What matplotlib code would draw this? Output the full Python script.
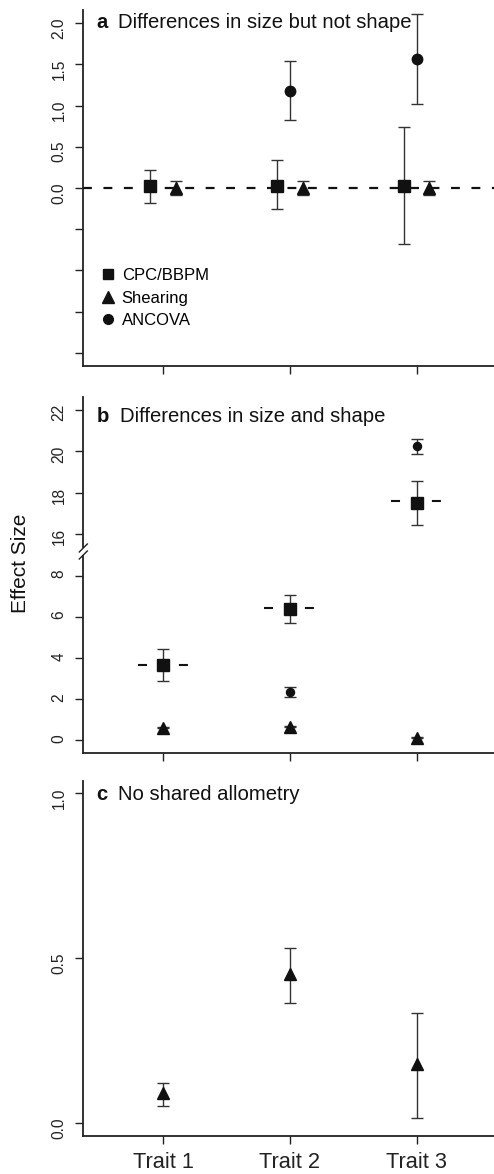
import matplotlib
matplotlib.use('Agg')
import matplotlib.pyplot as plt
import numpy as np
from matplotlib.lines import Line2D

plt.rcParams['font.family'] = ['Liberation Sans', 'DejaVu Sans']

# ---------------- data ----------------
traits = ['Trait 1', 'Trait 2', 'Trait 3']
trait_pos = [1, 2, 3]
methods = ['CPC/BBPM', 'Shearing', 'ANCOVA']

# panel a: differences in size but not shape
a_cpc = [0.02, 0.03, 0.03]
a_cpc_lo = [-0.18, -0.26, -0.675]
a_cpc_hi = [0.22, 0.335, 0.74]
a_shear = [0.0, 0.0, 0.0]
a_shear_lo = [-0.08, -0.08, -0.08]
a_shear_hi = [0.08, 0.09, 0.09]
a_ancova = [np.nan, 1.18, 1.56]
a_ancova_lo = [np.nan, 0.83, 1.02]
a_ancova_hi = [np.nan, 1.54, 2.11]
a_yticks = [-2.0, -1.5, -1.0, -0.5, 0.0, 0.5, 1.0, 1.5, 2.0]
a_ylabels = ['', '', '', '', '0.0', '0.5', '1.0', '1.5', '2.0']

# panel b: differences in size and shape (broken axis)
b_cpc = [3.645, 6.38, 17.52]
b_cpc_lo = [2.88, 5.72, 16.43]
b_cpc_hi = [4.42, 7.05, 18.59]
b_cpc_ref = [3.645, 6.415, 17.63]
b_shear = [0.61, 0.66, 0.13]
b_shear_lo = [0.58, 0.63, 0.10]
b_shear_hi = [0.64, 0.69, 0.16]
b_ancova = [np.nan, 2.35, 20.24]
b_ancova_lo = [np.nan, 2.12, 19.88]
b_ancova_hi = [np.nan, 2.59, 20.60]
b_low_ticks = [0, 2, 4, 6, 8]
b_high_ticks = [16, 18, 20, 22]

# panel c: no shared allometry
c_shear = [0.091, 0.452, 0.179]
c_shear_lo = [0.052, 0.364, 0.016]
c_shear_hi = [0.123, 0.530, 0.335]
c_yticks = [0.0, 0.5, 1.0]
c_ylabels = ['0.0', '0.5', '1.0']

# ---------------- layout helpers ----------------
W, H = 494, 1174
fig = plt.figure(figsize=(W / 100, H / 100), dpi=100)


def axrect(top_px, bottom_px, left_px=83.3):
    return [left_px / W, 1 - bottom_px / H, 1 - left_px / W, (bottom_px - top_px) / H]


def fpt(x, y):
    return (x / W, 1 - y / H)


INK = '#111111'
BAR = '#333333'
XLIM = (0.3724, 3.609)


def style(ax, show_bottom=True):
    ax.spines['top'].set_visible(False)
    ax.spines['right'].set_visible(False)
    ax.spines['left'].set_linewidth(1.3)
    ax.spines['left'].set_color('#222222')
    ax.spines['bottom'].set_linewidth(1.3)
    ax.spines['bottom'].set_color('#222222')
    if not show_bottom:
        ax.spines['bottom'].set_visible(False)
        ax.tick_params(axis='x', bottom=False, labelbottom=False)
    ax.tick_params(axis='both', direction='out', length=5.8, width=1.0,
                   color='#222222', labelcolor='#222222')
    ax.tick_params(axis='y', labelrotation=90, labelsize=11.2, pad=6.3)
    ax.set_xlim(*XLIM)
    ax.set_xticks(trait_pos)
    ax.set_xticklabels([])
    ax.patch.set_alpha(0)


def eb(ax, x, y, lo, hi, marker, ms):
    y = np.asarray(y, float)
    lo = np.asarray(lo, float)
    hi = np.asarray(hi, float)
    ax.errorbar(x, y, yerr=[y - lo, hi - y], fmt=marker, ms=ms, color=INK,
                mec=INK, mfc=INK, ecolor=BAR, elinewidth=1.0, capsize=4.3,
                capthick=1.0, zorder=3)


xs = np.array(trait_pos, float)
off = 0.1

# ---------------- panel a ----------------
axa = fig.add_axes(axrect(10, 366))
style(axa)
axa.set_ylim(-2.16, 2.16)
axa.set_yticks(a_yticks)
axa.set_yticklabels(a_ylabels)
axa.axhline(0, color=INK, lw=1.6, ls=(0, (4.0, 5.2)), zorder=2)
eb(axa, xs - off, a_cpc, a_cpc_lo, a_cpc_hi, 's', 8)
eb(axa, xs + off, a_shear, a_shear_lo, a_shear_hi, '^', 8.5)
eb(axa, xs, a_ancova, a_ancova_lo, a_ancova_hi, 'o', 7.5)

handles = [Line2D([], [], ls='none', marker='s', ms=7, color=INK),
           Line2D([], [], ls='none', marker='^', ms=8, color=INK),
           Line2D([], [], ls='none', marker='o', ms=7, color=INK)]
axa.legend(handles, methods, loc='upper left', bbox_to_anchor=fpt(100.5, 268),
           bbox_transform=fig.transFigure, frameon=False, fontsize=12,
           handlelength=0.9, handletextpad=0.37, labelspacing=0.45,
           borderpad=0, borderaxespad=0)

# ---------------- panel b (broken axis) ----------------
axb_hi = fig.add_axes(axrect(396.7, 547))
axb_lo = fig.add_axes(axrect(556, 753.3))
style(axb_hi, show_bottom=False)
style(axb_lo)
axb_hi.set_ylim(15.39, 22.64)
axb_lo.set_ylim(-0.632, 8.957)
axb_hi.set_yticks(b_high_ticks)
axb_hi.set_yticklabels([str(t) for t in b_high_ticks])
axb_lo.set_yticks(b_low_ticks)
axb_lo.set_yticklabels([str(t) for t in b_low_ticks])
for ax in (axb_hi, axb_lo):
    ax.hlines(b_cpc_ref, xs - 0.2, xs + 0.2, colors=INK, lw=1.5,
              linestyles=[(0, (4.33, 15.3))], zorder=2)
    eb(ax, xs, b_cpc, b_cpc_lo, b_cpc_hi, 's', 8)
    eb(ax, xs, b_shear, b_shear_lo, b_shear_hi, '^', 8)
    eb(ax, xs, b_ancova, b_ancova_lo, b_ancova_hi, 'o', 5.8)

# break marks on the y axis
for yc in (548, 555):
    x0, y0 = fpt(79.3, yc + 4)
    x1, y1 = fpt(87.3, yc - 4)
    fig.add_artist(Line2D([x0, x1], [y0, y1], transform=fig.transFigure,
                          color='#222222', lw=1.0))

# ---------------- panel c ----------------
axc = fig.add_axes(axrect(780.7, 1136))
style(axc)
axc.set_ylim(-0.038, 1.038)
axc.set_yticks(c_yticks)
axc.set_yticklabels(c_ylabels)
axc.set_xticklabels(traits)
axc.tick_params(axis='x', labelsize=15.7, pad=6)
eb(axc, xs, c_shear, c_shear_lo, c_shear_hi, '^', 8.5)

# ---------------- panel titles ----------------
titles = [('a', 'Differences in size but not shape', 28.3, 118),
          ('b', 'Differences in size and shape', 421.7, 120),
          ('c', 'No shared allometry', 800, 118.3)]
for letter, txt, base, tx in titles:
    fig.text(*fpt(96.7, base), letter, fontsize=14.6, fontweight='bold',
             va='baseline', ha='left', color=INK)
    fig.text(*fpt(tx, base), txt, fontsize=14.6, va='baseline', ha='left',
             color=INK)

fig.text(*fpt(21, 563), 'Effect Size', fontsize=15, rotation=90,
         ha='center', va='center', color=INK)

fig.savefig('out.png', dpi=100)
